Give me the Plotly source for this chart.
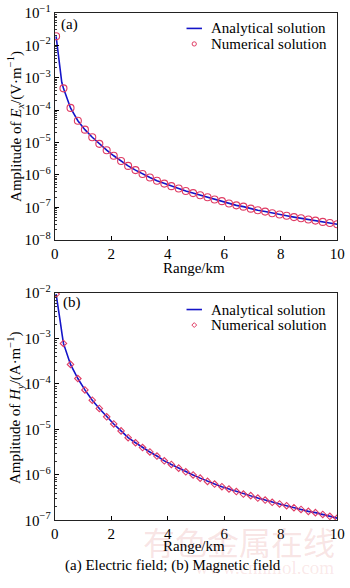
import plotly.graph_objects as go

# Range (km) of the sampled receivers
range_km = [0.05, 0.31, 0.56, 0.82, 1.07, 1.33, 1.58, 1.84, 2.09, 2.35,
            2.60, 2.86, 3.11, 3.37, 3.62, 3.88, 4.13, 4.39, 4.64, 4.90,
            5.15, 5.41, 5.66, 5.92, 6.17, 6.43, 6.68, 6.94, 7.19, 7.45,
            7.70, 7.96, 8.21, 8.47, 8.72, 8.98, 9.23, 9.49, 9.74, 10.0]

# Electric field amplitude Ex (V/m)
ex_amp = [1.9e-2, 4.7e-4, 1.17e-4, 4.7e-5, 2.5e-5, 1.45e-5, 9.1e-6, 5.8e-6, 3.9e-6, 2.7e-6,
          1.9e-6, 1.41e-6, 1.07e-6, 8.3e-7, 6.6e-7, 5.4e-7, 4.5e-7, 3.8e-7, 3.2e-7, 2.75e-7,
          2.35e-7, 2.04e-7, 1.74e-7, 1.55e-7, 1.32e-7, 1.15e-7, 1.05e-7, 9.1e-8, 8.1e-8, 7.4e-8,
          6.6e-8, 6.0e-8, 5.5e-8, 5.0e-8, 4.6e-8, 4.2e-8, 3.9e-8, 3.55e-8, 3.3e-8, 3.0e-8]

# Magnetic field amplitude Hy (A/m)
hy_amp = [9.5e-3, 7.8e-4, 2.7e-4, 1.32e-4, 7.4e-5, 4.4e-5, 2.9e-5, 1.9e-5, 1.32e-5, 9.3e-6,
          6.6e-6, 5.1e-6, 4.0e-6, 3.2e-6, 2.6e-6, 2.04e-6, 1.7e-6, 1.41e-6, 1.17e-6, 1.0e-6,
          8.5e-7, 7.2e-7, 6.3e-7, 5.5e-7, 4.9e-7, 4.3e-7, 3.8e-7, 3.5e-7, 3.1e-7, 2.8e-7,
          2.5e-7, 2.3e-7, 2.1e-7, 1.9e-7, 1.74e-7, 1.58e-7, 1.48e-7, 1.35e-7, 1.23e-7, 1.12e-7]

# Extra near-source samples of the analytical curves
ex_near_km = [0.14, 0.19, 0.25]
ex_near = [4.1e-3, 1.45e-3, 7.2e-4]
hy_near_km = [0.12, 0.19, 0.26]
hy_near = [5.3e-3, 2.5e-3, 1.25e-3]

x_ticks = [0, 2, 4, 6, 8, 10]
ex_exp = [-1, -2, -3, -4, -5, -6, -7, -8]
hy_exp = [-2, -3, -4, -5, -6, -7]

FONT = "Liberation Serif"
LINE_C = "#1414c8"
MARK_C = "#e03c64"
W, H = 350, 588


def merged(xs, ys, xn, yn):
    pts = sorted(list(zip(xs, ys)) + list(zip(xn, yn)))
    return [p[0] for p in pts], [p[1] for p in pts]


fig = go.Figure()

ax_x, ax_y = merged(range_km, ex_amp, ex_near_km, ex_near)
hx_x, hx_y = merged(range_km, hy_amp, hy_near_km, hy_near)

fig.add_trace(go.Scatter(x=ax_x, y=ax_y, mode="lines", line=dict(color=LINE_C, width=1.6),
                         name="Analytical solution", xaxis="x", yaxis="y"))
fig.add_trace(go.Scatter(x=range_km, y=ex_amp, mode="markers",
                         marker=dict(symbol="circle-open", size=7, color=MARK_C, line=dict(width=1.1)),
                         name="Numerical solution", xaxis="x", yaxis="y"))
fig.add_trace(go.Scatter(x=hx_x, y=hx_y, mode="lines", line=dict(color=LINE_C, width=1.6),
                         name="Analytical solution", xaxis="x2", yaxis="y2"))
fig.add_trace(go.Scatter(x=range_km, y=hy_amp, mode="markers",
                         marker=dict(symbol="diamond-open", size=5, color=MARK_C, line=dict(width=1.1)),
                         name="Numerical solution", xaxis="x2", yaxis="y2"))

x_dom = [52.5 / W, 345 / W]
top_dom = [1 - 237 / H, 1 - 3 / H]
bot_dom = [1 - 526.5 / H, 1 - 292 / H]

common_x = dict(range=[0, 10], tickvals=x_ticks, ticktext=[str(v) for v in x_ticks],
                ticks="inside", ticklen=4, tickcolor="#000", ticklabeloverflow="allow",
                showline=True, linecolor="#222", linewidth=1, mirror=True, showgrid=False,
                zeroline=False, tickfont=dict(family=FONT, size=15, color="#000"))


def y_axis(exps, dom, anchor):
    minor_vals = [m * 10 ** e for e in exps[1:] for m in range(2, 10)]
    return dict(type="log", domain=dom, anchor=anchor,
                range=[min(exps), max(exps)],
                tickvals=[10 ** e for e in exps],
                ticktext=["10<sup>\u2212%d</sup>" % (-e) for e in exps],
                ticks="inside", ticklen=4, tickcolor="#000",
                minor=dict(tickvals=minor_vals, ticks="inside", ticklen=2, tickwidth=1,
                           tickcolor="#333", showgrid=False),
                showline=True, linecolor="#222", linewidth=1, mirror=True, showgrid=False,
                zeroline=False, tickfont=dict(family=FONT, size=15, color="#000"))


fig.update_layout(
    width=W, height=H, margin=dict(l=0, r=0, t=0, b=0),
    paper_bgcolor="#fff", plot_bgcolor="#fff", showlegend=False,
    xaxis=dict(domain=x_dom, anchor="y", **common_x),
    yaxis=y_axis(ex_exp, top_dom, "x"),
    xaxis2=dict(domain=x_dom, anchor="y2", **common_x),
    yaxis2=y_axis(hy_exp, bot_dom, "x2"),
)

ann = []


def txt(x, y, s, size=15, xanchor="center", yanchor="middle", **kw):
    d = dict(x=x / W, y=1 - y / H, xref="paper", yref="paper", text=s, showarrow=False,
             xanchor=xanchor, yanchor=yanchor,
             font=dict(family=FONT, size=size, color="#000"))
    d.update(kw)
    ann.append(d)


# faint source watermark (drawn first so the caption sits on top)
txt(243, 548, "有色金属在线", font=dict(family="Noto Sans CJK SC", size=32, color="rgba(215,90,90,0.17)"))
txt(344, 575, "www.cnnmol.com", xanchor="right",
    font=dict(family=FONT, size=19, color="rgba(215,90,90,0.14)"))

# axis titles
txt(197, 266, "Range/km")
txt(197, 553, "Range/km")
txt(12, 120, "Amplitude of <i>E<sub>x</sub></i>/(V\u00b7m<sup>\u22121</sup>)", textangle=-90)
txt(12, 410, "Amplitude of <i>H<sub>y</sub></i>/(A\u00b7m<sup>\u22121</sup>)", textangle=-90)

# panel labels
txt(57, 15, "(a)", xanchor="left")
txt(59, 302, "(b)", xanchor="left")

# legends: text, line sample and marker sample in paper coordinates
for y0 in (0, 290):
    txt(212, 19 + y0, "Analytical solution", xanchor="left")
    txt(212, 35 + y0, "Numerical solution", xanchor="left")
    fig.add_shape(type="line", xref="paper", yref="paper",
                  x0=189 / W, x1=205 / W, y0=1 - (19 + y0) / H, y1=1 - (19 + y0) / H,
                  line=dict(color=LINE_C, width=1.6))

cx, cy, r = 197, 35, 2.2
fig.add_shape(type="circle", xref="paper", yref="paper",
              x0=(cx - r) / W, x1=(cx + r) / W, y0=1 - (cy + r) / H, y1=1 - (cy - r) / H,
              line=dict(color=MARK_C, width=1))
cy2 = 325
fig.add_shape(type="path", xref="paper", yref="paper",
              path="M {a},{b} L {c},{d} L {a},{e} L {f},{d} Z".format(
                  a=cx / W, b=1 - (cy2 - 2.5) / H, c=(cx + 2.5) / W, d=1 - cy2 / H,
                  e=1 - (cy2 + 2.5) / H, f=(cx - 2.5) / W),
              line=dict(color=MARK_C, width=1))

# caption
txt(175, 573, "(a) Electric field; (b) Magnetic field")

fig.update_layout(annotations=ann)
fig.write_html("out.html")
